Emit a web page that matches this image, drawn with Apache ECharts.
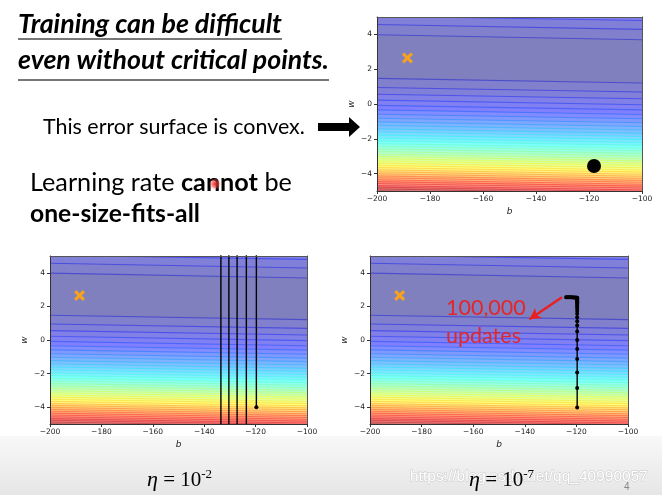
<!DOCTYPE html>
<html><head><meta charset="utf-8">
<script src="https://cdn.jsdelivr.net/npm/echarts@6/dist/echarts.min.js"></script>
<style>html,body{margin:0;padding:0;background:#fff}#c{width:662px;height:495px}</style>
</head><body><div id="c"></div><script>
// ---------------- data ----------------
const bTicks = [-200, -180, -160, -140, -120, -100];
const wTicks = [-4, -2, 0, 2, 4];
// contour lines below the valley: w at b=-200 (left edge) and at b=-100 (right edge)
const lowerLinesLeft  = [1.47,0.95,0.56,0.22,-0.08,-0.34,-0.59,-0.82,-1.03,-1.23,-1.43,-1.61,-1.79,-1.96,-2.12,-2.28,-2.43,-2.58,-2.73,-2.87,-3.01,-3.14,-3.27,-3.40,-3.53,-3.65,-3.78,-3.89,-4.01,-4.13,-4.24,-4.35,-4.46,-4.57,-4.68,-4.78,-4.88,-4.99,-5.09];
const lowerLinesRight = [1.21,0.69,0.30,-0.04,-0.34,-0.60,-0.85,-1.08,-1.29,-1.49,-1.69,-1.87,-2.05,-2.22,-2.38,-2.54,-2.69,-2.84,-2.99,-3.13,-3.27,-3.40,-3.53,-3.66,-3.79,-3.91,-4.04,-4.15,-4.27,-4.39,-4.50,-4.61,-4.72,-4.83,-4.94,-5.04,-5.14,-5.25,-5.35];
// contour lines above the valley
const upperLinesLeft  = [3.98, 4.57, 5.05, 5.45];
const upperLinesRight = [3.69, 4.29, 4.80, 5.20];
const levelCount = 40;
// target (orange cross) and starting points
const target = [-188.5, 2.65];
const topStart = [-118.1, -3.56];
// eta = 1e-2: diverging path (w explodes, alternating sign)
const path1B = [-119.7, -119.7, -123.6, -123.6, -127.2, -127.2, -130.4, -130.4, -133.5, -133.5];
const path1W = [-4.0, 1000, 1000, -1000, -1000, 1000, 1000, -1000, -1000, 1000];
// eta = 1e-7: 100,000 updates
const path2B = [-119.7,-119.7,-119.7,-119.7,-119.7,-119.7,-119.7,-119.7,-119.7,-119.7,-119.7,-119.7,-119.7,-119.7,-119.7,-119.7,-119.7,-119.7,-119.7,-119.7,-119.7,-119.7,-119.7,-119.7,-120.1,-120.5,-120.9,-121.3,-121.7,-122.1,-122.5,-122.9,-123.3,-123.7,-124.0];
const path2W = [-4.02,-2.85,-1.93,-1.13,-0.54,0.00,0.50,0.86,1.12,1.36,1.56,1.73,1.87,1.99,2.09,2.17,2.24,2.30,2.35,2.40,2.44,2.47,2.50,2.52,2.53,2.53,2.53,2.53,2.54,2.54,2.54,2.54,2.54,2.55,2.55];
const arrowFrom = [-125.6, 2.55];
const arrowTo = [-138.2, 1.24];

// ---------------- styling helpers ----------------
function clamp(x){ return Math.max(0, Math.min(1, x)); }
function jetRGB(v){
  return [clamp(Math.min(4*v - 1.5, -4*v + 4.5)), clamp(Math.min(4*v - 0.5, -4*v + 3.5)), clamp(Math.min(4*v + 0.5, -4*v + 2.5))];
}
function jet(v, a){
  const c = jetRGB(v);
  const m = x => Math.round(255 * (a * x + (1 - a)));
  return 'rgb(' + m(c[0]) + ',' + m(c[1]) + ',' + m(c[2]) + ')';
}
function jetLine(v){
  const c = jetRGB(Math.min(1, v + 0.06));
  return 'rgba(' + Math.round(255*c[0]) + ',' + Math.round(255*c[1]) + ',' + Math.round(255*c[2]) + ',0.4)';
}
const FILL_ALPHA = 0.5;

// bands: base + lower + upper
const bands = [{kind: 'base', level: 0}];
lowerLinesLeft.forEach((l, i) => bands.push({kind: 'low', l: l, r: lowerLinesRight[i], level: i + 1}));
upperLinesLeft.forEach((l, i) => bands.push({kind: 'up', l: l, r: upperLinesRight[i], level: i + 1}));

function bgRender(params, api){
  const bd = bands[params.dataIndex];
  const v = bd.level / levelCount;
  if (bd.kind === 'base') {
    const pts = [api.coord([-200, -5]), api.coord([-100, -5]), api.coord([-100, 5]), api.coord([-200, 5])];
    return {type: 'polygon', shape: {points: pts}, style: {fill: jet(0, FILL_ALPHA)}};
  }
  const far = bd.kind === 'low' ? -8 : 8;
  const p0 = api.coord([-200, bd.l]), p1 = api.coord([-100, bd.r]);
  const poly = [p0, p1, api.coord([-100, far]), api.coord([-200, far])];
  return {type: 'group', children: [
    {type: 'polygon', shape: {points: poly}, style: {fill: jet(v, FILL_ALPHA)}},
    {type: 'polyline', shape: {points: [p0, p1]}, style: {stroke: jetLine(v), lineWidth: 1.1, fill: null}}
  ]};
}

const grids = [
  {left: 377, top: 17, width: 265, height: 174},
  {left: 50, top: 256, width: 257, height: 168},
  {left: 370, top: 256, width: 258, height: 168}
];
const AX = '#333';
const minus = v => (v < 0 ? '\u2212' + (-v) : '' + v);
const xAxes = [], yAxes = [];
grids.forEach((g, i) => {
  xAxes.push({gridIndex: i, type: 'value', min: -200, max: -100, interval: 20, position: 'bottom',
    axisLine: {show: true, onZero: false, lineStyle: {color: AX, width: 1}},
    axisTick: {show: true, length: 3, lineStyle: {color: AX}},
    axisLabel: {fontSize: 7.5, color: '#222', margin: 4, fontFamily: 'DejaVu Sans', formatter: minus},
    splitLine: {show: false}, name: 'b', nameLocation: 'middle', nameGap: 16,
    nameTextStyle: {fontStyle: 'italic', fontSize: 9, color: '#222', fontFamily: 'DejaVu Sans'}, z: 5});
  yAxes.push({gridIndex: i, type: 'value', min: -5, max: 5, position: 'left',
    axisLine: {show: true, onZero: false, lineStyle: {color: AX, width: 1}},
    axisTick: {show: true, length: 3, lineStyle: {color: AX}, customValues: wTicks},
    axisLabel: {fontSize: 7.5, color: '#222', margin: 5, fontFamily: 'DejaVu Sans', formatter: minus, customValues: wTicks},
    splitLine: {show: false}, name: 'w', nameLocation: 'middle', nameGap: 21,
    nameTextStyle: {fontStyle: 'italic', fontSize: 9, color: '#222', fontFamily: 'DejaVu Sans'}, z: 5});
});
grids.forEach((g, i) => {
  xAxes.push({gridIndex: i, type: 'value', min: -200, max: -100, position: 'top',
    axisLine: {show: true, onZero: false, lineStyle: {color: '#555', width: 1}},
    axisTick: {show: false}, axisLabel: {show: false}, splitLine: {show: false}, z: 5});
  yAxes.push({gridIndex: i, type: 'value', min: -5, max: 5, position: 'right',
    axisLine: {show: true, onZero: false, lineStyle: {color: '#555', width: 1}},
    axisTick: {show: false}, axisLabel: {show: false}, splitLine: {show: false}, z: 5});
});

const crossPath = 'path://M2,0 L5,3 L8,0 L10,2 L7,5 L10,8 L8,10 L5,7 L2,10 L0,8 L3,5 L0,2 Z';
const series = [];
grids.forEach((g, i) => {
  series.push({type: 'custom', xAxisIndex: i, yAxisIndex: i, renderItem: bgRender, clip: true,
    data: bands.map((b, k) => [-150, 0, k]), z: 1, silent: true});
  series.push({type: 'scatter', xAxisIndex: i, yAxisIndex: i, data: [target], symbol: crossPath,
    symbolSize: 11, itemStyle: {color: '#f7a21c', opacity: 1}, z: 4, silent: true});
});
series.push({type: 'scatter', xAxisIndex: 0, yAxisIndex: 0, data: [topStart], symbolSize: 14,
  itemStyle: {color: '#000', opacity: 1}, z: 4, silent: true});
series.push({type: 'line', xAxisIndex: 1, yAxisIndex: 1, data: path1B.map((b, k) => [b, path1W[k]]),
  showSymbol: false, clip: true, lineStyle: {color: '#000', width: 1.4}, z: 3, silent: true});
series.push({type: 'scatter', xAxisIndex: 1, yAxisIndex: 1, data: [[path1B[0], path1W[0]]], symbolSize: 4,
  itemStyle: {color: '#000', opacity: 1}, z: 4, silent: true});
series.push({type: 'line', xAxisIndex: 2, yAxisIndex: 2, data: path2B.map((b, k) => [b, path2W[k]]),
  showSymbol: true, symbol: 'circle', symbolSize: 4, itemStyle: {color: '#000', opacity: 1},
  lineStyle: {color: '#000', width: 1.4}, z: 3, silent: true,
  markLine: {silent: true, symbol: ['none', 'arrow'], symbolSize: [9, 11], label: {show: false},
    lineStyle: {color: '#e8201f', width: 2.4, type: 'solid'},
    data: [[{coord: arrowFrom}, {coord: arrowTo}]]}});

// ---------------- slide text ----------------
const cv = document.createElement('canvas').getContext('2d');
function w(text, font){ cv.font = font; return cv.measureText(text).width; }
const F = 'Lato';
function fitSize(parts, target){ // parts: [text, style, weight]
  const base = 20;
  let tot = 0;
  parts.forEach(p => { tot += w(p[0], p[1] + ' ' + p[2] + ' ' + base + 'px ' + F); });
  return base * target / tot;
}
const s1 = fitSize([['Training can be difficult', 'italic', 'bold']], 264);
const s2 = fitSize([['even without critical points.', 'italic', 'bold']], 311);
const s3 = fitSize([['This error surface is convex.', 'normal', 'normal']], 262);
const s4 = fitSize([['Learning rate ', 'normal', 'normal'], ['cannot', 'normal', 'bold'], [' be', 'normal', 'normal']], 262);
const s5 = fitSize([['one-size-fits-all', 'normal', 'bold']], 170);

function txt(x, y, text, size, opts){
  return Object.assign({type: 'text', x: x, y: y, z: 20, silent: true, style: Object.assign({
    text: text, fontSize: size, fontFamily: F, fill: '#000', textAlign: 'left', textVerticalAlign: 'middle',
    align: 'left', verticalAlign: 'middle'}, opts || {})});
}
const etaRich = {
  e: {fontSize: 22, fontFamily: 'Liberation Serif', fontStyle: 'italic', fill: '#000'},
  n: {fontSize: 21, fontFamily: 'Liberation Serif', fill: '#000'},
  s: {fontSize: 13, fontFamily: 'Liberation Serif', fill: '#000', verticalAlign: 'top', padding: [0, 0, 11, 0]}
};

const graphics = [
  {type: 'rect', shape: {x: 0, y: 436, width: 662, height: 59}, z: -10, silent: true,
    style: {fill: new echarts.graphic.LinearGradient(0, 0, 0, 1, [{offset: 0, color: '#f8f8f8'}, {offset: 1, color: '#e6e6e6'}])}},
  txt(18, 24, 'Training can be difficult', s1, {fontWeight: 'bold', fontStyle: 'italic'}),
  {type: 'line', shape: {x1: 18, y1: 39, x2: 282, y2: 39}, style: {stroke: '#777', lineWidth: 1.8}, z: 20, silent: true},
  txt(18, 60, 'even without critical points.', s2, {fontWeight: 'bold', fontStyle: 'italic'}),
  {type: 'line', shape: {x1: 18, y1: 80, x2: 329, y2: 80}, style: {stroke: '#777', lineWidth: 1.8}, z: 20, silent: true},
  txt(43, 127, 'This error surface is convex.', s3),
  {type: 'polygon', shape: {points: [[318, 123], [349, 123], [349, 117], [360, 127], [349, 137], [349, 131], [318, 131]]},
    style: {fill: '#000'}, z: 20, silent: true},
  txt(30, 183, '{a|Learning rate }{b|cannot}{a| be}', s4, {rich: {
    a: {fontSize: s4, fontFamily: F, fill: '#000'},
    b: {fontSize: s4, fontFamily: F, fontWeight: 'bold', fill: '#000'}}}),
  {type: 'circle', shape: {cx: 215, cy: 184, r: 6}, z: 21, silent: true,
    style: {fill: new echarts.graphic.RadialGradient(0.5, 0.5, 0.5, [{offset: 0, color: 'rgba(235,30,30,0.95)'}, {offset: 0.5, color: 'rgba(240,60,60,0.6)'}, {offset: 1, color: 'rgba(255,120,120,0)'}])}},
  txt(30, 214, 'one-size-fits-all', s5, {fontWeight: 'bold'}),
  txt(446, 308, '100,000', 21.5, {fill: '#e3262b'}),
  txt(446, 336, 'updates', 21.5, {fill: '#e3262b'}),
  txt(410, 477, 'https://blog.csdn.net/qq_40990057', 15.5, {fontFamily: 'Liberation Sans', fill: '#ffffff', stroke: '#cacaca', lineWidth: 1}),
  txt(147, 480, '{e|\u03b7}{n| = 10}{s|-2}', 21, {fontFamily: 'Liberation Serif', rich: etaRich}),
  txt(469, 480, '{e|\u03b7}{n| = 10}{s|-7}', 21, {fontFamily: 'Liberation Serif', rich: etaRich}),
  txt(624, 487, '4', 10, {fontFamily: 'Liberation Sans', fill: '#888'})
];

const chart = echarts.init(document.getElementById('c'), null, {renderer: 'canvas'});
chart.setOption({
  animation: false,
  backgroundColor: '#ffffff',
  grid: grids.map(g => Object.assign({containLabel: false}, g)),
  xAxis: xAxes,
  yAxis: yAxes,
  series: series,
  graphic: {elements: graphics}
});
</script></body></html>
